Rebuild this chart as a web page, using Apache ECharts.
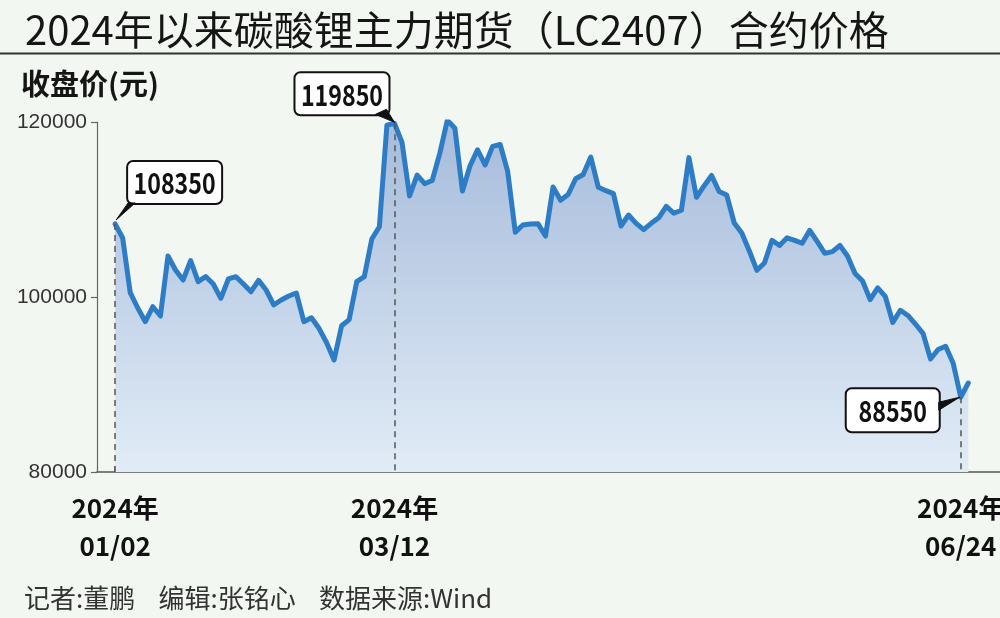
<!DOCTYPE html>
<html>
<head>
<meta charset="utf-8">
<script src="https://cdn.jsdelivr.net/npm/echarts@6/dist/echarts.min.js"></script>
<style>
html,body{margin:0;padding:0;background:#f3f7f1;}
#c{width:1000px;height:618px;}
</style>
</head>
<body>
<div id="c"></div>
<script>
// ---- data ----
const titleText = '2024年以来碳酸锂主力期货（LC2407）合约价格';
const yAxisName = '收盘价(元)';
const footerText = '记者:董鹏    编辑:张铭心    数据来源:Wind';
const tickYear = '2024年';
const tickIndex = [0, 37, 112];
const tickDates = ['01/02', '03/12', '06/24'];
const yTicks = [80000, 100000, 120000];
const annotIndex = [0, 37, 112];
const prices = [
  108350, 106740, 100510, 98740, 97180, 98890, 97830, 104690, 103090, 101940,
  104150, 101750, 102340, 101490, 99850, 102060, 102320, 101490, 100610, 101910,
  100800, 99090, 99660, 100110, 100460, 97180, 97620, 96420, 94800, 92800,
  96710, 97420, 101750, 102320, 106630, 108030, 119650, 119850, 117660, 111540,
  113940, 112950, 113310, 116420, 120200, 119300, 112110, 114970, 116830, 115090,
  117220, 117430, 114320, 107410, 108230, 108340, 108380, 106970, 112570, 111050,
  111710, 113510, 114000, 116000, 112540, 112150, 111810, 108110, 109370, 108420,
  107690, 108420, 109050, 110370, 109570, 109910, 115930, 111390, 112690, 113890,
  112060, 111660, 108460, 107310, 105260, 103050, 103890, 106480, 105890, 106770,
  106480, 106140, 107620, 106320, 104990, 105180, 105890, 104690, 102690, 101830,
  99700, 101050, 100080, 97090, 98480, 97890, 96910, 95850, 92910, 94000,
  94370, 92420, 88550, 90170
];

// ---- chart ----
const chart = echarts.init(document.getElementById('c'), null, {renderer: 'canvas'});
const lineData = prices.map((v, i) => [i, v]);
const annotData = annotIndex.map((i, k) => [i, prices[i], k]);
const cjk = "'Noto Sans CJK SC', sans-serif";

// annotation layouts relative to the anchor point: box (dx, dy, w, h), wedge points
const annotLayout = [
  {box: [12, -63, 95, 43], wedge: [[1, -4], [13, -21], [20, -21]]},
  {box: [-100, -51, 95, 43], wedge: [[0, -1], [-19, -9], [-8, -14]]},
  {box: [-115, -9, 94, 44], wedge: [[-1, 0], [-22, 5], [-22, 13]]}
];

function renderAnnot(params, api) {
  const idx = api.value(0), val = api.value(1), k = api.value(2);
  const p = api.coord([idx, val]);
  const L = annotLayout[k];
  const b = L.box;
  const cx = p[0] + b[0] + b[2] / 2;
  const cy = p[1] + b[1] + b[3] / 2 + 1;
  return {
    type: 'group',
    children: [
      {
        type: 'rect',
        shape: {x: p[0] + b[0], y: p[1] + b[1], width: b[2], height: b[3], r: 6},
        style: {fill: '#ffffff', stroke: '#111', lineWidth: 2}
      },
      {
        type: 'polygon',
        shape: {points: L.wedge.map(q => [p[0] + q[0], p[1] + q[1]])},
        style: {fill: '#111', stroke: '#111', lineWidth: 1}
      },
      {
        type: 'text',
        x: cx, y: cy,
        scaleX: 0.8, scaleY: 1,
        style: {
          x: 0, y: 0,
          text: String(val),
          align: 'center',
          verticalAlign: 'middle',
          font: "bold 29px " + cjk,
          fill: '#111'
        }
      }
    ]
  };
}

const option = {
  backgroundColor: '#f3f7f1',
  animation: false,
  title: [
    {text: titleText, left: 20, top: 5,
     textStyle: {fontSize: 40, fontWeight: 'normal', color: '#151515', fontFamily: cjk}},
    {text: yAxisName, left: 16, top: 64,
     textStyle: {fontSize: 29, fontWeight: 'bold', color: '#151515', fontFamily: cjk}},
    {text: footerText, left: 19, top: 580,
     textStyle: {fontSize: 26, fontWeight: 'normal', color: '#333', fontFamily: cjk}}
  ],
  graphic: [
    {type: 'line', shape: {x1: 0, y1: 53.5, x2: 1000, y2: 53.5}, style: {stroke: '#333', lineWidth: 2}}
  ],
  grid: {left: 97, right: 0, top: 122, bottom: 146, containLabel: false, outerBoundsMode: 'none'},
  xAxis: {
    type: 'value',
    min: -2.4,
    max: 117.2,
    splitLine: {show: false},
    axisLine: {show: true, onZero: false, lineStyle: {color: '#555', width: 1.5}},
    axisTick: {show: true, inside: true, length: 6, customValues: tickIndex, lineStyle: {color: '#555', width: 1.5}},
    axisLabel: {
      show: true,
      customValues: tickIndex,
      formatter: v => tickYear + '\n' + tickDates[tickIndex.indexOf(v)],
      fontSize: 26,
      fontWeight: 'bold',
      fontFamily: cjk,
      lineHeight: 38,
      margin: 17,
      color: '#111'
    }
  },
  yAxis: {
    type: 'value',
    min: yTicks[0],
    max: yTicks[yTicks.length - 1],
    interval: 20000,
    splitLine: {show: false},
    axisLine: {show: true, onZero: false, lineStyle: {color: '#666', width: 1.2}},
    axisTick: {show: true, length: 6, lineStyle: {color: '#666', width: 1.2}},
    axisLabel: {fontSize: 21, color: '#333', fontFamily: "'Liberation Sans', Arial, sans-serif", margin: 10,
                formatter: v => String(v)}
  },
  series: [
    {
      type: 'line',
      data: lineData,
      symbol: 'none',
      lineStyle: {color: '#2d7cc6', width: 5, join: 'round', cap: 'round'},
      areaStyle: {
        opacity: 1,
        color: new echarts.graphic.LinearGradient(0, 0, 0, 1, [
          {offset: 0, color: '#a6bbdb'},
          {offset: 1, color: '#e1ecf6'}
        ])
      },
      markLine: {
        symbol: 'none',
        silent: true,
        animation: false,
        label: {show: false},
        lineStyle: {type: [6, 5], color: '#555', width: 1.5},
        data: annotIndex.map(i => [{coord: [i, prices[i]]}, {coord: [i, yTicks[0]]}])
      },
      z: 2
    },
    {
      type: 'custom',
      data: annotData,
      renderItem: renderAnnot,
      encode: {x: 0, y: 1},
      z: 5,
      silent: true
    }
  ]
};
chart.setOption(option);
</script>
</body>
</html>
